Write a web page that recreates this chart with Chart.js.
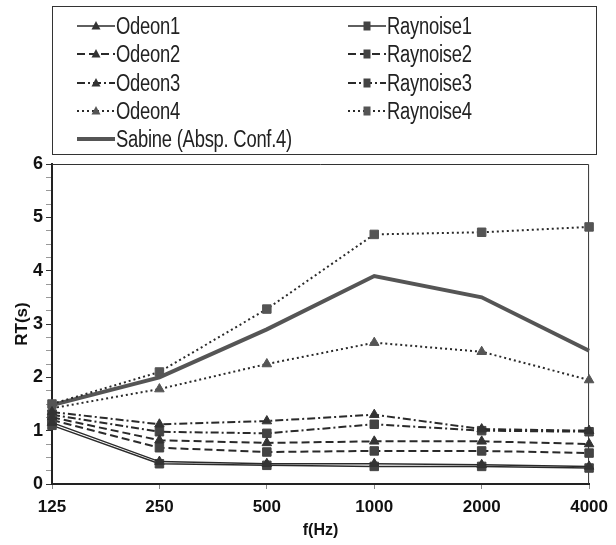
<!DOCTYPE html>
<html>
<head>
<meta charset="utf-8">
<script src="https://cdn.jsdelivr.net/npm/chart.js@4/dist/chart.umd.min.js"></script>
<style>
  html, body { margin: 0; padding: 0; background: #fff; }
  #wrap { position: relative; width: 616px; height: 545px; }
  #legend {
    position: absolute; left: 52px; top: 6px; width: 545px; height: 149px;
    border: 1px solid #333; box-sizing: border-box;
    font-family: 'Liberation Sans', Arial, sans-serif;
    font-size: 23px; color: #222;
  }
  .item { position: absolute; display: flex; align-items: center; height: 28px; white-space: nowrap; }
  .item svg { margin-right: 1px; flex: none; }
  .item span { display: inline-block; transform: scaleX(0.8); transform-origin: 0 50%; letter-spacing: -0.3px; }
</style>
</head>
<body>
<div id="wrap">
  <canvas id="c" width="616" height="545"></canvas>
  <div id="legend"></div>
</div>
<script>
const categories = ['125', '250', '500', '1000', '2000', '4000'];
const odeon1    = [1.15, 0.42, 0.38, 0.38, 0.36, 0.33];
const raynoise1 = [1.10, 0.38, 0.35, 0.33, 0.33, 0.30];
const odeon2    = [1.25, 0.82, 0.77, 0.80, 0.80, 0.75];
const raynoise2 = [1.20, 0.68, 0.60, 0.62, 0.62, 0.58];
const odeon3    = [1.35, 1.12, 1.18, 1.30, 1.03, 1.00];
const raynoise3 = [1.30, 0.98, 0.95, 1.12, 1.00, 0.98];
const odeon4    = [1.42, 1.78, 2.25, 2.65, 2.48, 1.95];
const raynoise4 = [1.50, 2.10, 3.28, 4.68, 4.72, 4.82];
const sabine    = [1.48, 2.00, 2.90, 3.90, 3.50, 2.50];

const DASH = [8, 4];
const DASHDOT = [8, 3, 2, 3];
const DOT = [2, 3];

function ds(label, data, style, dash, width, color, mColor, radius) {
  return {
    label, data, borderColor: color, backgroundColor: mColor, pointBackgroundColor: mColor,
    pointBorderColor: mColor, borderWidth: width, borderDash: dash, pointStyle: style,
    pointRadius: radius, pointBorderWidth: 1, tension: 0, fill: false
  };
}

const datasets = [
  ds('Odeon1', odeon1, 'triangle', [], 1.5, '#2a2a2a', '#333', 5.5),
  ds('Raynoise1', raynoise1, 'rect', [], 1.5, '#2a2a2a', '#444', 6),
  ds('Odeon2', odeon2, 'triangle', DASH, 2, '#2a2a2a', '#333', 5.5),
  ds('Raynoise2', raynoise2, 'rect', DASH, 2, '#2a2a2a', '#444', 6),
  ds('Odeon3', odeon3, 'triangle', DASHDOT, 2, '#2a2a2a', '#333', 5.5),
  ds('Raynoise3', raynoise3, 'rect', DASHDOT, 2, '#2a2a2a', '#444', 6),
  ds('Odeon4', odeon4, 'triangle', DOT, 2, '#2a2a2a', '#555', 5.5),
  ds('Raynoise4', raynoise4, 'rect', DOT, 2, '#2a2a2a', '#555', 6),
  ds('Sabine (Absp. Conf.4)', sabine, false, [], 4, '#555', '#555', 0)
];

const AXFONT = "'Liberation Sans', Arial, sans-serif";

const framePlugin = {
  id: 'frame',
  beforeDatasetsDraw(chart) {
    const a = chart.chartArea, c = chart.ctx;
    c.save();
    c.strokeStyle = '#333'; c.lineWidth = 1;
    c.beginPath();
    c.moveTo(a.left, a.top + 0.5); c.lineTo(a.right - 0.5, a.top + 0.5); c.lineTo(a.right - 0.5, a.bottom);
    c.stroke();
    c.restore();
  }
};

const chart = new Chart(document.getElementById('c'), {
  type: 'line',
  data: { labels: categories, datasets },
  options: {
    responsive: false, animation: false,
    layout: { padding: { top: 164, right: 19, left: 0, bottom: 0 } },
    plugins: { legend: { display: false }, tooltip: { enabled: false } },
    scales: {
      x: {
        offset: false,
        grid: { display: true, drawOnChartArea: false, tickLength: 5, color: '#888' },
        border: { color: '#222', width: 2 },
        ticks: { color: '#111', padding: 8, maxRotation: 0, autoSkip: false,
                 font: { family: AXFONT, size: 17, weight: 'bold' } },
        title: { display: true, text: 'f(Hz)', color: '#111', padding: { top: 0, bottom: 5 },
                 font: { family: AXFONT, size: 16, weight: 'bold' } },
        afterFit(s) { s.height = 61; }
      },
      y: {
        min: 0, max: 6,
        grid: { display: true, drawOnChartArea: false, tickLength: 6,
                color: (c) => (Number.isInteger(c.tick && c.tick.value) ? '#333' : '#999') },
        border: { color: '#222', width: 2 },
        ticks: { stepSize: 0.25, autoSkip: false, padding: 3, color: '#111',
                 font: { family: AXFONT, size: 18, weight: 'bold' },
                 callback: (v) => (Number.isInteger(v) ? String(v) : '') },
        title: { display: true, text: 'RT(s)', color: '#111', padding: { top: 12, bottom: 0 },
                 font: { family: AXFONT, size: 17, weight: 'bold' } },
        afterFit(s) { s.width = 52; }
      }
    }
  },
  plugins: [framePlugin]
});

// HTML legend built from the chart's datasets
function sample(d) {
  const w = 38, h = 16, cy = 8;
  let s = `<svg width="${w}" height="${h}" viewBox="0 0 ${w} ${h}">`;
  const dash = d.borderDash && d.borderDash.length ? `stroke-dasharray="${d.borderDash.join(',')}"` : '';
  s += `<line x1="0" y1="${cy}" x2="${w}" y2="${cy}" stroke="${d.borderColor}" stroke-width="${d.borderWidth}" ${dash}/>`;
  if (d.pointStyle === 'triangle') {
    s += `<polygon points="${w/2},${cy-5} ${w/2+4.5},${cy+3.5} ${w/2-4.5},${cy+3.5}" fill="${d.pointBackgroundColor}"/>`;
  } else if (d.pointStyle === 'rect') {
    s += `<rect x="${w/2-3.5}" y="${cy-4.5}" width="7" height="9" fill="${d.pointBackgroundColor}"/>`;
  }
  return s + '</svg>';
}
const legend = document.getElementById('legend');
const colX = [24, 295];
const rowY = [5, 33, 62, 90, 118];
chart.data.datasets.forEach((d, i) => {
  const col = i === 8 ? 0 : i % 2;
  const row = i === 8 ? 4 : Math.floor(i / 2);
  const el = document.createElement('div');
  el.className = 'item';
  el.style.left = colX[col] + 'px';
  el.style.top = rowY[row] + 'px';
  el.innerHTML = sample(d) + '<span>' + d.label + '</span>';
  legend.appendChild(el);
});
</script>
</body>
</html>
